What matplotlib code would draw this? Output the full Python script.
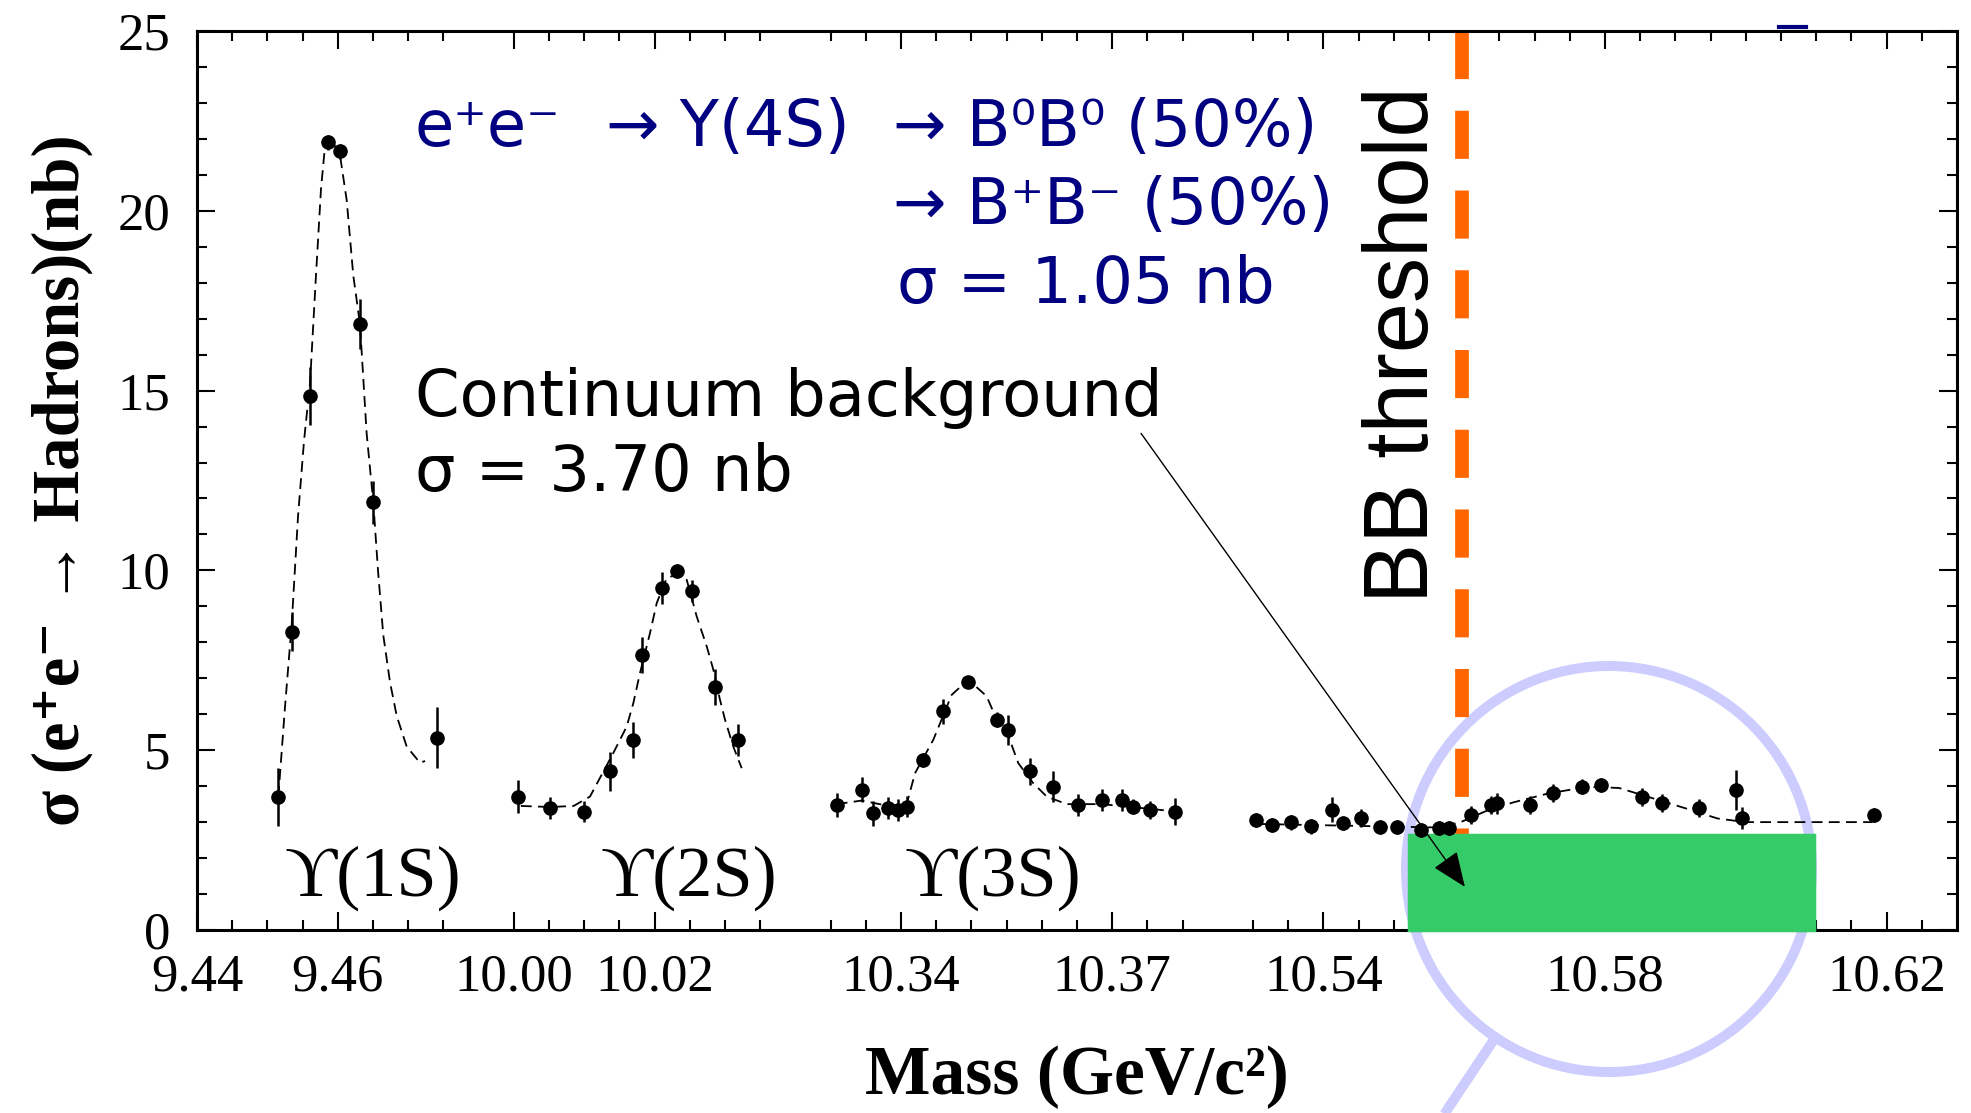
import numpy as np
import matplotlib
matplotlib.use('Agg')
import matplotlib.pyplot as plt
from matplotlib.patches import Rectangle, Circle
from matplotlib.lines import Line2D
from matplotlib.ticker import FixedLocator, FixedFormatter

plt.rcParams['font.family'] = ['Liberation Serif', 'DejaVu Serif']

W, H = 1971, 1113

# the scanned mass axis is broken into four windows (GeV)
windows = [(9.44, 9.48), (9.995, 10.04), (10.325, 10.385), (10.525, 10.63)]

major_ticks = [9.44, 9.46, 10.00, 10.02, 10.34, 10.37, 10.54, 10.58, 10.62]
major_labels = ['9.44', '9.46', '10.00', '10.02', '10.34', '10.37', '10.54', '10.58', '10.62']
y_ticks = [0, 5, 10, 15, 20, 25]

# measured points: mass (GeV), sigma (nb), error (nb)
m_1s = [9.45155, 9.45345, 9.45605, 9.45861, 9.46031, 9.46315, 9.46504, 9.4741]
s_1s = [3.7, 8.3, 14.85, 21.9, 21.65, 16.85, 11.9, 5.35]
e_1s = [0.8, 0.55, 0.8, 0.2, 0.2, 0.7, 0.6, 0.85]

m_2s = [10.00064, 10.00514, 10.00997, 10.01367, 10.01697, 10.01817, 10.02101,
        10.02314, 10.02527, 10.02858, 10.03189]
s_2s = [3.71, 3.39, 3.29, 4.41, 5.29, 7.66, 9.51, 9.98, 9.42, 6.77, 5.29]
e_2s = [0.45, 0.3, 0.3, 0.55, 0.5, 0.5, 0.45, 0.2, 0.3, 0.5, 0.45]

m_3s = [10.33087, 10.33442, 10.33607, 10.3382, 10.33962, 10.34081, 10.34317,
        10.34601, 10.34956, 10.35359, 10.35524, 10.35832, 10.36163, 10.36518,
        10.36851, 10.37135, 10.373, 10.37537, 10.37892]
s_3s = [3.48, 3.9, 3.25, 3.39, 3.34, 3.43, 4.73, 6.08, 6.91, 5.85, 5.57, 4.41,
        3.99, 3.48, 3.62, 3.62, 3.43, 3.34, 3.29]
e_3s = [0.33, 0.35, 0.35, 0.3, 0.3, 0.3, 0.2, 0.35, 0.15, 0.2, 0.42, 0.37,
        0.42, 0.3, 0.3, 0.3, 0.2, 0.25, 0.37]

m_4s = [10.53048, 10.53264, 10.53541, 10.53818, 10.54126, 10.5428, 10.54527,
        10.54804, 10.55051, 10.55389, 10.55636, 10.5579, 10.56098, 10.56375,
        10.56467, 10.56929, 10.57267, 10.57669, 10.57946, 10.58531, 10.58808,
        10.59331, 10.59855, 10.59947, 10.61827]
s_4s = [3.06, 2.92, 2.99, 2.88, 3.34, 2.97, 3.11, 2.86, 2.86, 2.78, 2.83, 2.83,
        3.2, 3.48, 3.52, 3.48, 3.8, 3.99, 4.04, 3.71, 3.52, 3.39, 3.9, 3.11, 3.2]
e_4s = [0.2, 0.2, 0.2, 0.2, 0.35, 0.2, 0.25, 0.2, 0.2, 0.2, 0.2, 0.2,
        0.25, 0.25, 0.3, 0.25, 0.25, 0.2, 0.2, 0.25, 0.25, 0.25, 0.55, 0.3, 0.2]

# dashed fit curves
c1_m = [9.45155, 9.4525, 9.45345, 9.45435, 9.4552, 9.45605, 9.4569, 9.45761,
        9.45818, 9.45861, 9.45932, 9.46031, 9.46126, 9.4622, 9.46315, 9.4641,
        9.46504, 9.46571, 9.46646, 9.46741, 9.46837, 9.46979, 9.47168, 9.47239]
c1_s = [3.7, 6.2, 8.5, 11.5, 13.6, 15.2, 18.2, 20.6, 21.8, 22.05, 21.9, 21.55,
        20.3, 18.2, 16.85, 13.8, 11.9, 10.0, 8.2, 6.9, 5.95, 5.1, 4.65, 4.7]

c2_m = [10.001, 10.0052, 10.0085, 10.01082, 10.01413, 10.01604, 10.01698,
        10.01793, 10.01935, 10.0203, 10.02172, 10.02314, 10.02456, 10.02598,
        10.0274, 10.02834, 10.02929, 10.03, 10.03118, 10.03237]
c2_s = [3.45, 3.42, 3.45, 3.71, 4.92, 5.66, 6.31, 7.15, 8.26, 9.09, 9.79, 9.88,
        9.74, 8.72, 7.89, 7.24, 6.4, 5.85, 5.1, 4.5]

c3_m = [10.33087, 10.33442, 10.3382, 10.34081, 10.34199, 10.34459, 10.3472,
        10.34956, 10.35217, 10.35359, 10.35524, 10.35666, 10.35879, 10.3607,
        10.36354, 10.36851, 10.37892]
c3_s = [3.5, 3.6, 3.45, 3.5, 4.36, 5.29, 6.54, 6.96, 6.5, 5.85, 5.4, 4.64,
        4.08, 3.71, 3.5, 3.5, 3.3]

c4_m = [10.5305, 10.5564, 10.5595, 10.563, 10.567, 10.572, 10.5775, 10.582,
        10.587, 10.592, 10.596, 10.600, 10.618]
c4_s = [2.95, 2.85, 3.0, 3.3, 3.55, 3.8, 3.98, 3.95, 3.65, 3.35, 3.1, 3.0, 3.0]

bb_threshold = 10.5597
continuum_x = (10.5522, 10.6097)
continuum_top = 2.645

# piecewise mapping of the broken axis
m_edges = np.array([m for w in windows for m in w])
u_edges = np.cumsum([0] + [v for w in windows for v in (w[1] - w[0], 0)])[:-1]
u_inv = u_edges + np.arange(len(u_edges)) * 1e-9


def fwd(m):
    return np.interp(np.asarray(m, float), m_edges, u_edges)


def inv(u):
    return np.interp(np.asarray(u, float), u_inv, m_edges)


fig = plt.figure(figsize=(W / 100, H / 100), dpi=100)
ax = fig.add_axes([197 / W, 1 - 930 / H, 1760 / W, 899 / H])
ax.set_xscale('function', functions=(fwd, inv))
ax.set_xlim(windows[0][0], windows[-1][1])
ax.set_ylim(0, 25)

minor = []
for a, b in windows:
    for t in np.arange(a + 0.005, b - 0.0049, 0.005):
        t = round(t, 3)
        if t not in major_ticks:
            minor.append(t)
ax.xaxis.set_major_locator(FixedLocator(major_ticks))
ax.xaxis.set_major_formatter(FixedFormatter(major_labels))
ax.xaxis.set_minor_locator(FixedLocator(minor))
ax.set_yticks(y_ticks)
ax.yaxis.set_minor_locator(FixedLocator(range(0, 26)))

ax.tick_params(which='both', direction='in', top=True, right=True, width=1.5,
               colors='black')
ax.tick_params(which='major', length=13, labelsize=38)
ax.tick_params(which='minor', length=7)
ax.tick_params(axis='x', which='major', pad=17)
ax.tick_params(axis='y', which='major', pad=19)
for sp in ax.spines.values():
    sp.set_linewidth(2.2)

# magnifier overlay
lens = Circle((16.09, (H - 869) / 100), 2.03, transform=fig.dpi_scale_trans,
              fill=False, ec='#CCCCFF', lw=7.2, clip_on=False, zorder=1)
ax.add_patch(lens)
handle = Line2D([14.93, 14.25], [(H - 1041) / 100, -0.3], transform=fig.dpi_scale_trans,
                color='#CCCCFF', lw=7.2, solid_capstyle='butt', clip_on=False, zorder=1)
ax.add_line(handle)

ax.plot([bb_threshold, bb_threshold], [25, 0], color='#FF6600', lw=9.9,
        dashes=(3.5, 2.3), zorder=1.6, clip_on=False)

for cm, cs in [(c1_m, c1_s), (c2_m, c2_s), (c3_m, c3_s), (c4_m, c4_s)]:
    ax.plot(cm, cs, color='black', lw=1.3, dashes=(6, 3.5), zorder=3)

for m, s, e in [(m_1s, s_1s, e_1s), (m_2s, s_2s, e_2s), (m_3s, s_3s, e_3s), (m_4s, s_4s, e_4s)]:
    ax.errorbar(m, s, yerr=e, fmt='o', color='black', ms=9.5, elinewidth=1.8,
                capsize=0, zorder=5)

ax.add_patch(Rectangle((continuum_x[0], 0), continuum_x[1] - continuum_x[0], continuum_top,
                       fc='#36CB69', ec='#36CB69', lw=2.5, zorder=4, clip_on=False))

ax.annotate('', xy=(10.5601, 1.2), xytext=(10.3741, 13.81),
            arrowprops=dict(arrowstyle='-|>,head_length=1.1,head_width=0.45',
                            color='black', lw=1.0, mutation_scale=20,
                            shrinkA=0, shrinkB=0), zorder=6)

# resonance labels
for lab, xm in [('ϒ(1S)', 9.465), ('ϒ(2S)', 10.0249), ('ϒ(3S)', 10.3531)]:
    ax.text(xm, 0.95, lab, ha='center', va='baseline', fontsize=52, zorder=6)

ax.set_xlabel('Mass (GeV/c²)', fontsize=50, fontweight='bold')
ax.xaxis.set_label_coords(0.5, -0.128)
ax.set_ylabel('σ (e⁺e⁻ → Hadrons)(nb)', fontsize=48, fontweight='bold')
ax.yaxis.set_label_coords(-0.059, 0.5)


def ftext(x, y, s, **kw):
    fig.text(x / W, 1 - y / H, s, va='baseline', ha='left', **kw)


navy = '#000080'
sans = ['DejaVu Sans']
ftext(415, 146, 'e⁺e⁻', color=navy, fontsize=46, family=sans)
ftext(606, 146, '→ Y(4S)', color=navy, fontsize=46, family=sans)
ftext(893, 146, '→ B⁰B⁰ (50%)', color=navy, fontsize=46, family=sans)
ftext(893, 224, '→ B⁺B⁻ (50%)', color=navy, fontsize=46, family=sans)
ftext(897, 303, 'σ = 1.05 nb', color=navy, fontsize=46, family=sans)
ftext(415, 416, 'Continuum background', color='black', fontsize=46, family=sans)
ftext(415, 491, 'σ = 3.70 nb', color='black', fontsize=46, family=sans)

fig.text(1428 / W, 1 - 603 / H, 'BB threshold', rotation=90, rotation_mode='anchor',
         ha='left', va='baseline', fontsize=65, family=['Liberation Sans', 'DejaVu Sans'])
fig.add_artist(Line2D([1779 / W, 1806 / W], [1 - 27 / H, 1 - 27 / H], color=navy, lw=3))

fig.savefig('out.png', dpi=100, facecolor='white')
